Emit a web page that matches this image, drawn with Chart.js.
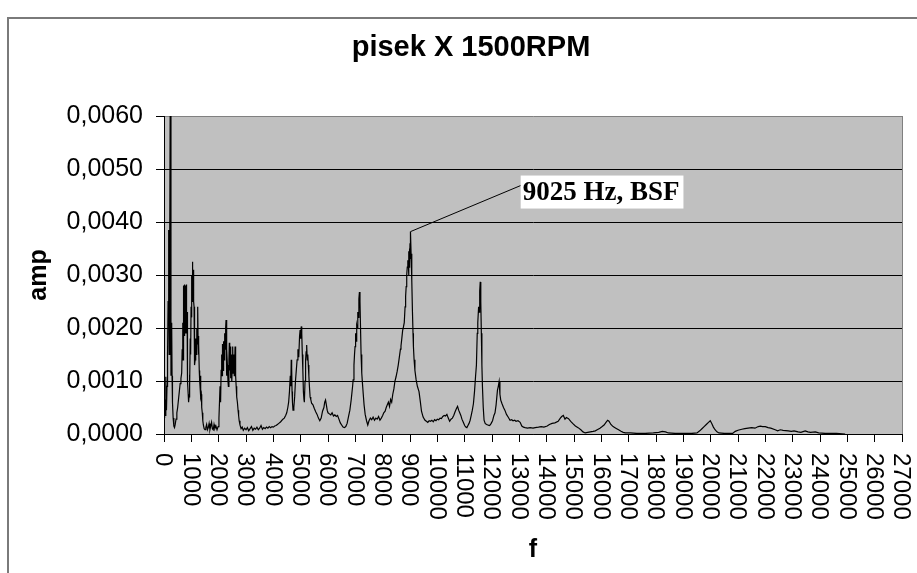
<!DOCTYPE html>
<html>
<head>
<meta charset="utf-8">
<title>pisek X 1500RPM</title>
<script src="https://cdn.jsdelivr.net/npm/chart.js@4.4.1/dist/chart.umd.min.js"></script>
<style>
    html, body { margin: 0; padding: 0; background: #ffffff; }
    #wrap { position: relative; width: 917px; height: 573px; }
</style>
</head>
<body>
<div id="wrap"><canvas id="specChart"></canvas></div>
<script>
// spectrum, frequency in Hz
const freqHz = [
    0, 15, 30, 45, 60, 73, 90, 110, 130, 150, 172, 190, 210, 238, 255, 268, 281, 295, 310, 335,
    360, 385, 410, 440, 470, 500, 530, 560, 590, 620, 647, 665, 683, 690, 696, 702, 708, 713, 718, 723,
    728, 733, 738, 743, 748, 753, 758, 763, 768, 773, 778, 784, 790, 795, 800, 806, 812, 817, 822, 827,
    832, 838, 845, 850, 857, 870, 885, 900, 915, 930, 945, 960, 975, 990, 1005, 1020, 1026, 1032, 1038, 1043,
    1049, 1055, 1060, 1065, 1071, 1078, 1084, 1090, 1095, 1100, 1110, 1125, 1140, 1160, 1180, 1200, 1215, 1233, 1245, 1260,
    1275, 1290, 1305, 1318, 1335, 1350, 1365, 1380, 1400, 1420, 1440, 1470, 1500, 1530, 1560, 1590, 1620, 1650, 1680, 1710,
    1740, 1770, 1800, 1830, 1860, 1900, 1940, 1980, 2010, 2030, 2050, 2070, 2090, 2110, 2125, 2140, 2160, 2180, 2200, 2220,
    2240, 2255, 2270, 2285, 2300, 2320, 2340, 2355, 2375, 2390, 2405, 2420, 2440, 2460, 2480, 2500, 2513, 2530, 2550, 2570,
    2585, 2600, 2620, 2640, 2660, 2685, 2710, 2730, 2750, 2780, 2820, 2860, 2900, 2950, 3000, 3050, 3100, 3150, 3200, 3250,
    3300, 3350, 3400, 3450, 3500, 3550, 3600, 3650, 3700, 3750, 3800, 3850, 3900, 3950, 4000, 4050, 4100, 4150, 4200, 4250,
    4300, 4350, 4400, 4450, 4490, 4530, 4560, 4590, 4620, 4640, 4655, 4670, 4685, 4700, 4720, 4750, 4780, 4810, 4840, 4870,
    4900, 4930, 4960, 4980, 5000, 5020, 5040, 5060, 5080, 5100, 5120, 5135, 5160, 5180, 5200, 5220, 5240, 5260, 5280, 5300,
    5320, 5345, 5370, 5400, 5450, 5500, 5550, 5600, 5650, 5700, 5750, 5800, 5850, 5880, 5910, 5940, 5970, 6000, 6050, 6100,
    6150, 6200, 6250, 6300, 6350, 6400, 6450, 6500, 6550, 6600, 6650, 6700, 6750, 6800, 6850, 6900, 6920, 6950, 6970, 6990,
    7010, 7030, 7050, 7070, 7090, 7110, 7130, 7150, 7170, 7190, 7210, 7235, 7260, 7290, 7320, 7360, 7410, 7455, 7500, 7550,
    7600, 7650, 7700, 7750, 7800, 7850, 7900, 7950, 8000, 8040, 8090, 8130, 8170, 8210, 8250, 8290, 8330, 8370, 8410, 8450,
    8490, 8530, 8570, 8610, 8650, 8670, 8700, 8730, 8760, 8790, 8820, 8840, 8860, 8880, 8900, 8920, 8940, 8950, 8960, 8970,
    8980, 8990, 9000, 9008, 9015, 9020, 9025, 9040, 9065, 9090, 9110, 9125, 9150, 9180, 9225, 9270, 9330, 9380, 9420, 9480,
    9550, 9600, 9650, 9700, 9750, 9800, 9850, 9900, 9950, 10000, 10050, 10100, 10150, 10200, 10250, 10300, 10350, 10400, 10450, 10500,
    10550, 10600, 10650, 10700, 10740, 10780, 10820, 10860, 10900, 10950, 11000, 11040, 11080, 11120, 11160, 11200, 11240, 11280, 11320, 11360,
    11400, 11430, 11460, 11480, 11510, 11530, 11550, 11570, 11590, 11610, 11630, 11650, 11680, 11710, 11750, 11800, 11850, 11900, 11930, 11970,
    12020, 12070, 12110, 12150, 12200, 12230, 12260, 12290, 12320, 12360, 12420, 12470, 12530, 12590, 12660, 12720, 12770, 12830, 12880, 12950,
    13030, 13090, 13150, 13210, 13300, 13400, 13500, 13580, 13700, 13800, 13900, 14020, 14100, 14200, 14300, 14420, 14500, 14550, 14610, 14670,
    14720, 14800, 14880, 14950, 15050, 15150, 15250, 15330, 15410, 15500, 15600, 15700, 15780, 15850, 15950, 16030, 16100, 16170, 16230, 16280,
    16350, 16430, 16530, 16630, 16720, 16800, 16880, 17060, 17300, 17600, 17900, 18100, 18230, 18350, 18450, 18700, 19000, 19300, 19500, 19600,
    19680, 19760, 19840, 19920, 19985, 20040, 20100, 20160, 20230, 20300, 20500, 20800, 20900, 21000, 21140, 21250, 21370, 21500, 21620, 21740,
    21820, 21900, 22000, 22100, 22200, 22360, 22450, 22550, 22650, 22840, 22950, 23050, 23200, 23300, 23460, 23560, 23650, 23830, 23950, 24190,
    24600, 24920
]

// amplitude for each frequency above
const ampV = [
    0.00045, 0.00030, 0.00065, 0.00035, 0.00080, 0.00108, 0.00045, 0.00090, 0.00150, 0.00250, 0.00385, 0.00150, 0.00350, 0.00800, 0.00110, 0.00180, 0.00210, 0.00110, 0.00060, 0.00030,
    0.00015, 0.00012, 0.00018, 0.00028, 0.00040, 0.00050, 0.00065, 0.00080, 0.00095, 0.00105, 0.00115, 0.00160, 0.00210, 0.00150, 0.00140, 0.00270, 0.00280, 0.00190, 0.00260, 0.00180,
    0.00275, 0.00195, 0.00270, 0.00185, 0.00282, 0.00190, 0.00275, 0.00185, 0.00270, 0.00195, 0.00280, 0.00190, 0.00280, 0.00205, 0.00275, 0.00195, 0.00275, 0.00190, 0.00280, 0.00200,
    0.00282, 0.00210, 0.00230, 0.00170, 0.00160, 0.00100, 0.00075, 0.00060, 0.00070, 0.00112, 0.00090, 0.00180, 0.00150, 0.00240, 0.00220, 0.00300, 0.00250, 0.00310, 0.00260, 0.00325,
    0.00270, 0.00315, 0.00265, 0.00310, 0.00260, 0.00305, 0.00255, 0.00300, 0.00250, 0.00240, 0.00170, 0.00130, 0.00140, 0.00180, 0.00150, 0.00200, 0.00170, 0.00240, 0.00185, 0.00150,
    0.00170, 0.00120, 0.00100, 0.00090, 0.00110, 0.00070, 0.00075, 0.00050, 0.00040, 0.00025, 0.00017, 0.00010, 0.00008, 0.00012, 0.00018, 0.00008, 0.00012, 0.00020, 0.00008, 0.00015,
    0.00022, 0.00010, 0.00008, 0.00018, 0.00010, 0.00015, 0.00008, 0.00014, 0.00030, 0.00060, 0.00090, 0.00060, 0.00120, 0.00150, 0.00110, 0.00170, 0.00120, 0.00175, 0.00140, 0.00190,
    0.00160, 0.00200, 0.00215, 0.00110, 0.00160, 0.00130, 0.00100, 0.00090, 0.00140, 0.00172, 0.00120, 0.00165, 0.00105, 0.00150, 0.00100, 0.00130, 0.00165, 0.00115, 0.00150, 0.00110,
    0.00130, 0.00165, 0.00110, 0.00090, 0.00070, 0.00060, 0.00045, 0.00035, 0.00025, 0.00017, 0.00010, 0.00013, 0.00007, 0.00011, 0.00008, 0.00012, 0.00006, 0.00010, 0.00014, 0.00007,
    0.00011, 0.00009, 0.00013, 0.00008, 0.00011, 0.00016, 0.00009, 0.00012, 0.00010, 0.00013, 0.00011, 0.00014, 0.00012, 0.00014, 0.00013, 0.00015, 0.00016, 0.00018, 0.00020, 0.00022,
    0.00025, 0.00028, 0.00030, 0.00035, 0.00040, 0.00050, 0.00060, 0.00080, 0.00110, 0.00090, 0.00140, 0.00125, 0.00080, 0.00060, 0.00045, 0.00050, 0.00070, 0.00100, 0.00120, 0.00140,
    0.00160, 0.00145, 0.00185, 0.00196, 0.00180, 0.00203, 0.00190, 0.00150, 0.00120, 0.00080, 0.00065, 0.00060, 0.00100, 0.00140, 0.00155, 0.00168, 0.00140, 0.00150, 0.00130, 0.00110,
    0.00090, 0.00070, 0.00065, 0.00058, 0.00055, 0.00048, 0.00042, 0.00037, 0.00030, 0.00025, 0.00030, 0.00043, 0.00050, 0.00060, 0.00064, 0.00055, 0.00045, 0.00040, 0.00038, 0.00036,
    0.00040, 0.00034, 0.00036, 0.00033, 0.00035, 0.00028, 0.00021, 0.00017, 0.00013, 0.00012, 0.00014, 0.00020, 0.00033, 0.00045, 0.00065, 0.00090, 0.00102, 0.00130, 0.00150, 0.00165,
    0.00190, 0.00175, 0.00205, 0.00200, 0.00230, 0.00220, 0.00255, 0.00268, 0.00250, 0.00200, 0.00150, 0.00115, 0.00096, 0.00075, 0.00055, 0.00037, 0.00025, 0.00017, 0.00025, 0.00030,
    0.00027, 0.00032, 0.00026, 0.00030, 0.00028, 0.00033, 0.00026, 0.00030, 0.00035, 0.00040, 0.00043, 0.00050, 0.00055, 0.00060, 0.00052, 0.00065, 0.00060, 0.00075, 0.00085, 0.00100,
    0.00108, 0.00118, 0.00130, 0.00145, 0.00160, 0.00166, 0.00180, 0.00195, 0.00202, 0.00210, 0.00240, 0.00260, 0.00278, 0.00300, 0.00315, 0.00328, 0.00320, 0.00300, 0.00345, 0.00315,
    0.00350, 0.00320, 0.00360, 0.00330, 0.00375, 0.00345, 0.00382, 0.00340, 0.00290, 0.00230, 0.00190, 0.00165, 0.00140, 0.00120, 0.00102, 0.00090, 0.00080, 0.00060, 0.00043, 0.00032,
    0.00026, 0.00024, 0.00022, 0.00025, 0.00024, 0.00026, 0.00023, 0.00027, 0.00025, 0.00028, 0.00027, 0.00030, 0.00029, 0.00033, 0.00035, 0.00034, 0.00037, 0.00030, 0.00024, 0.00028,
    0.00030, 0.00035, 0.00042, 0.00048, 0.00052, 0.00045, 0.00040, 0.00035, 0.00028, 0.00022, 0.00016, 0.00013, 0.00012, 0.00016, 0.00020, 0.00026, 0.00035, 0.00045, 0.00057, 0.00080,
    0.00110, 0.00130, 0.00190, 0.00210, 0.00240, 0.00230, 0.00270, 0.00287, 0.00250, 0.00190, 0.00130, 0.00090, 0.00050, 0.00026, 0.00020, 0.00018, 0.00017, 0.00016, 0.00017, 0.00020,
    0.00025, 0.00035, 0.00040, 0.00055, 0.00083, 0.00090, 0.00099, 0.00075, 0.00064, 0.00058, 0.00050, 0.00045, 0.00037, 0.00032, 0.00026, 0.00027, 0.00025, 0.00026, 0.00024, 0.00025,
    0.00022, 0.00015, 0.00013, 0.00012, 0.00011, 0.00012, 0.00011, 0.00012, 0.00013, 0.00014, 0.00013, 0.00015, 0.00018, 0.00020, 0.00021, 0.00024, 0.00030, 0.00033, 0.00035, 0.00028,
    0.00031, 0.00029, 0.00024, 0.00020, 0.00015, 0.00012, 0.00008, 0.00004, 0.00002, 0.00003, 0.00004, 0.00005, 0.00006, 0.00008, 0.00011, 0.00014, 0.00017, 0.00022, 0.00026, 0.00024,
    0.00018, 0.00014, 0.00011, 0.00008, 0.00005, 0.00003, 0.00002, 0.00002, 0.00001, 0.00001, 0.00002, 0.00003, 0.00005, 0.00004, 0.00002, 0.00001, 0.00001, 0.00001, 0.00002, 0.00006,
    0.00010, 0.00014, 0.00018, 0.00022, 0.00025, 0.00020, 0.00013, 0.00008, 0.00004, 0.00002, 0.00001, 0.00001, 0.00005, 0.00007, 0.00009, 0.00010, 0.00011, 0.00012, 0.00011, 0.00014,
    0.00015, 0.00014, 0.00014, 0.00012, 0.00011, 0.00008, 0.00006, 0.00008, 0.00007, 0.00006, 0.00005, 0.00006, 0.00004, 0.00003, 0.00006, 0.00004, 0.00003, 0.00004, 0.00002, 0.00001,
    0.00001, 0.00000
]

// axis ranges / ticks
const freqMin = 0, freqMax = 27000, freqStep = 1000
const ampMin = 0, ampMax = 0.006, ampStep = 0.001

// callout on the bearing peak
const noteFreq = 9025
const noteAmp = 0.00382
const noteText = '9025 Hz, BSF'

const sansFont = "'Liberation Sans', Arial, sans-serif"

let points = freqHz.map((f, i) => ({ x: f, y: ampV[i] }))

// grey plot background, frame, x labels (rotated downwards) and the callout
const excelLook = {
    id: 'excelLook',
    beforeDraw(chart) {
        const ctx = chart.ctx
        const a = chart.chartArea
        ctx.save()
        ctx.fillStyle = '#c0c0c0'
        ctx.fillRect(a.left, a.top, a.right - a.left, a.bottom - a.top)
        // outer chart frame
        ctx.strokeStyle = '#7a7a7a'
        ctx.lineWidth = 2
        ctx.beginPath()
        ctx.moveTo(8, chart.height + 5)
        ctx.lineTo(8, 18)
        ctx.lineTo(chart.width + 5, 18)
        ctx.stroke()
        // title
        ctx.fillStyle = '#000'
        ctx.font = "bold 29px " + sansFont
        ctx.textAlign = 'center'
        ctx.textBaseline = 'middle'
        ctx.fillText('pisek X 1500RPM', 471, 48)
        ctx.restore()
    },
    afterDraw(chart) {
        const ctx = chart.ctx
        const a = chart.chartArea
        const xs = chart.scales.x
        const ys = chart.scales.y
        ctx.save()
        // plot area edge on the right
        ctx.strokeStyle = '#808080'
        ctx.lineWidth = 1
        ctx.beginPath()
        ctx.moveTo(a.right + 0.5, a.top)
        ctx.lineTo(a.right + 0.5, a.bottom)
        ctx.stroke()

        // x tick labels, reading top to bottom
        ctx.fillStyle = '#000'
        ctx.font = "24px " + sansFont
        ctx.textAlign = 'left'
        ctx.textBaseline = 'middle'
        xs.ticks.forEach(t => {
            const px = xs.getPixelForValue(t.value)
            ctx.save()
            ctx.translate(px - 1, a.bottom + 19)
            ctx.rotate(Math.PI / 2)
            ctx.fillText(String(t.value), 0, 0)
            ctx.restore()
        })

        // callout: leader line + white box
        const px = xs.getPixelForValue(noteFreq)
        const py = ys.getPixelForValue(noteAmp)
        const bx = px + 110, by = py - 56
        ctx.strokeStyle = '#000'
        ctx.beginPath()
        ctx.moveTo(px, py)
        ctx.lineTo(bx, by + 10)
        ctx.stroke()
        ctx.font = "bold 27px 'Liberation Serif', 'Times New Roman', serif"
        const w = ctx.measureText(noteText).width
        ctx.fillStyle = '#fff'
        ctx.fillRect(bx, by, w + 6, 33)
        ctx.fillStyle = '#000'
        ctx.textBaseline = 'middle'
        ctx.fillText(noteText, bx + 2, by + 17)
        ctx.restore()
    }
}

var specChart = new Chart(
    document.getElementById('specChart'),
    {
        type: 'line',
        data: {
            datasets: [{
                data: points,
                borderColor: '#000000',
                borderWidth: 1.2,
                pointRadius: 0,
                tension: 0,
                fill: false
            }]
        },
        options: {
            responsive: true,
            maintainAspectRatio: false,
            animation: false,
            parsing: false,
            layout: {
                padding: { top: 116, right: 15, bottom: 0, left: 0 }
            },
            scales: {
                x: {
                    type: 'linear',
                    min: freqMin,
                    max: freqMax,
                    afterFit: scale => { scale.height = 139 },
                    ticks: {
                        stepSize: freqStep,
                        autoSkip: false,
                        display: false
                    },
                    grid: {
                        drawOnChartArea: false,
                        drawTicks: true,
                        tickLength: 8,
                        tickColor: '#000'
                    },
                    border: { display: true, color: '#000', width: 1 },
                    title: {
                        display: true,
                        text: 'f',
                        color: '#000',
                        font: { family: sansFont, size: 25, weight: 'bold' },
                        padding: { top: 0, bottom: 8 }
                    }
                },
                y: {
                    min: ampMin,
                    max: ampMax,
                    afterFit: scale => { scale.width = 164 },
                    ticks: {
                        stepSize: ampStep,
                        color: '#000',
                        padding: 13,
                        font: { family: sansFont, size: 25 },
                        callback: v => v.toFixed(4).replace('.', ',')
                    },
                    grid: {
                        color: ctx => (ctx.tick && Math.abs(ctx.tick.value - ampMax) < 1e-9) ? '#808080' : '#000',
                        tickColor: '#000',
                        tickLength: 8,
                        lineWidth: 1
                    },
                    border: { display: true, color: '#000', width: 1 },
                    title: {
                        display: true,
                        text: 'amp',
                        color: '#000',
                        font: { family: sansFont, size: 25, weight: 'bold' },
                        padding: { top: 24, bottom: 0 }
                    }
                }
            },
            plugins: {
                legend: { display: false },
                title: { display: false },
                tooltip: { enabled: false }
            }
        },
        plugins: [excelLook]
    }
)
</script>
</body>
</html>
